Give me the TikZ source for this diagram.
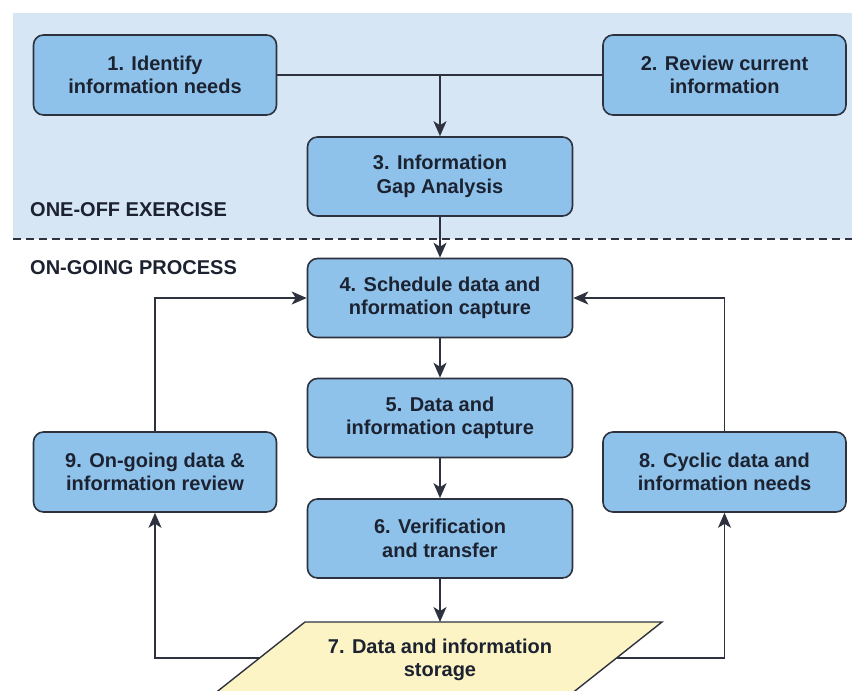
\documentclass[tikz,border=0pt]{standalone}
\usepackage{fontspec}
\setmainfont{Liberation Sans}
\usetikzlibrary{arrows.meta}

\definecolor{panelblue}{RGB}{214,230,245}
\definecolor{boxblue}{RGB}{142,194,235}
\definecolor{boxline}{RGB}{45,50,62}
\definecolor{inktext}{RGB}{28,34,48}
\definecolor{storeyellow}{RGB}{252,244,196}

\tikzset{
  stepbox/.style={draw=boxline, line width=1.6pt, fill=boxblue, rounded corners=10pt,
    align=center, inner sep=0pt, text=inktext},
  widebox/.style={stepbox, minimum width=243pt, minimum height=80pt},
  midbox/.style={stepbox, minimum width=265pt, minimum height=79pt},
  link/.style={draw=boxline, line width=1.6pt},
  arr/.style={link, -{Stealth[length=15pt, width=13pt, inset=4pt]}},
  phase/.style={anchor=west, inner sep=0pt, text=inktext}
}

\begin{document}
\begin{tikzpicture}[x=1pt, y=-1pt,
    font=\bfseries\fontsize{20}{23.5}\selectfont]
  \useasboundingbox (0,0) rectangle (852,691);
  \clip (0,0) rectangle (852,691);

  % one-off exercise panel
  \fill[panelblue] (13,13) rectangle (852,239);
  \draw[boxline, line width=1.8pt, dash pattern=on 8pt off 5pt] (13,239) -- (852,239);

  \node[phase] (oneoff) at (30,210) {ONE-OFF EXERCISE};
  \node[phase] (ongoing) at (30,268) {ON-GOING PROCESS};

  % process steps
  \node[widebox] (b1) at (155,75) {1. Identify\\information needs};
  \node[widebox] (b2) at (724.5,75) {2. Review current\\information};
  \node[midbox] (b3) at (440,176.5) {3. Information\\Gap Analysis};
  \node[midbox] (b4) at (440,298) {4. Schedule data and\\nformation capture};
  \node[midbox] (b5) at (440,418) {5. Data and\\information capture};
  \node[midbox] (b6) at (440,538.5) {6. Verification\\and transfer};
  \node[widebox] (b9) at (155,472) {9. On-going data \&\\information review};
  \node[widebox] (b8) at (724.5,472) {8. Cyclic data and\\information needs};

  % storage parallelogram
  \coordinate (s-tl) at (305,622);
  \coordinate (s-tr) at (662,622);
  \coordinate (s-br) at (513,740);
  \coordinate (s-bl) at (156,740);
  \filldraw[fill=storeyellow, draw=boxline, line width=1.4pt]
    (s-tl) -- (s-tr) -- (s-br) -- (s-bl) -- cycle;
  \node[align=center, text=inktext, inner sep=0pt] (b7) at (440,660)
    {7. Data and information\\storage};
  \coordinate (s-top) at (440,622);
  \coordinate (s-left) at (260,658);
  \coordinate (s-right) at (617,658);

  % connectors
  \draw[link] (b1.east) -- (b2.west);
  \coordinate (join) at (b1.east -| b3.north);
  \draw[arr] (join) -- (b3.north);
  \draw[arr] (b3.south) -- (b4.north);
  \draw[arr] (b4.south) -- (b5.north);
  \draw[arr] (b5.south) -- (b6.north);
  \draw[arr] (b6.south) -- (s-top);
  \draw[arr] (b9.north) |- (b4.west);
  \draw[arr] (b8.north) |- (b4.east);
  \draw[arr] (s-left) -| (b9.south);
  \draw[arr] (s-right) -| (b8.south);
\end{tikzpicture}
\end{document}
